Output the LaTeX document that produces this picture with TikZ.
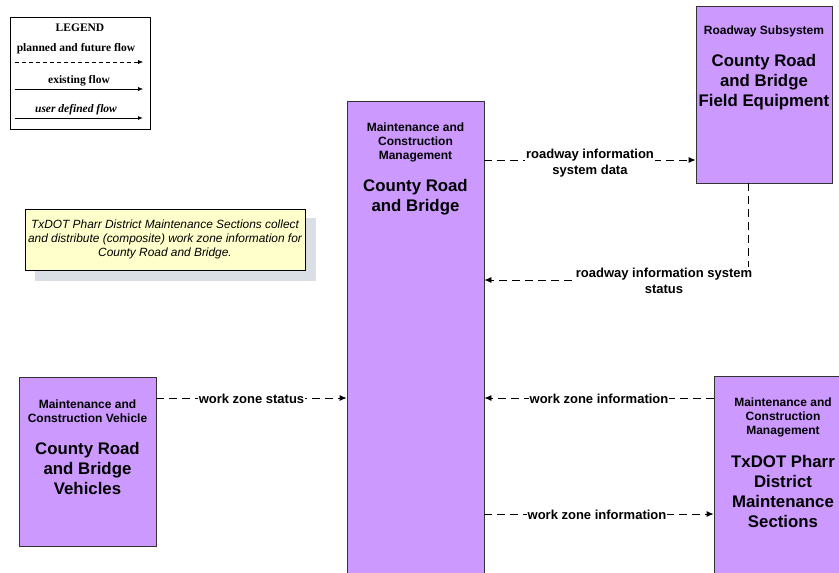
\documentclass[tikz,border=0pt]{standalone}
\usepackage{fontspec}
\setmainfont{Liberation Serif}
\setsansfont{Liberation Sans}
\usetikzlibrary{arrows.meta}
\definecolor{subsys}{HTML}{CC99FF}
\definecolor{notefill}{HTML}{FFFFCC}
\definecolor{noteshadow}{HTML}{D9DFE4}

\begin{document}
\begin{tikzpicture}[x=1pt,y=-1pt,
  sub/.style={draw=black!80,fill=subsys,line width=0.8pt},
  small/.style={font=\sffamily\bfseries\fontsize{12}{13.6}\selectfont,align=center,yshift=-1.5pt},
  big/.style={font=\sffamily\bfseries\fontsize{16.8}{20}\selectfont,align=center,yshift=-1.5pt},
  flow/.style={dash pattern=on 8pt off 5pt,line width=0.8pt,-{Latex[length=7pt,width=6pt]}},
  flbl/.style={font=\sffamily\bfseries\fontsize{13}{16}\selectfont,align=center,fill=white,inner sep=1pt},
  lg/.style={font=\rmfamily\bfseries\fontsize{11.5}{12}\selectfont}]
\useasboundingbox (0,0) rectangle (839,573);

% legend
\node[draw,line width=0.8pt,minimum width=140,minimum height=112] (legend) at (80,73) {};
\node[lg] at (80,28) {LEGEND};
\node[lg] at (76,49) {planned and future flow};
\node[lg] at (79,81) {existing flow};
\node[lg,font=\rmfamily\bfseries\itshape\fontsize{11.5}{12}\selectfont] at (76,110) {user defined flow};
\coordinate (pa) at (15,62);  \coordinate (pb) at (143,62);
\coordinate (ea) at (15,89);  \coordinate (eb) at (143,89);
\coordinate (ua) at (15,118); \coordinate (ub) at (143,118);
\draw[dash pattern=on 4pt off 3pt,-{Latex[length=5pt,width=4pt]}] (pa) -- (pb);
\draw[-{Latex[length=5pt,width=4pt]}] (ea) -- (eb);
\draw[line width=1pt,-{Latex[length=5pt,width=4pt]}] (ua) -- (ub);

% note
\fill[noteshadow] (35,218) rectangle (316,281);
\node[draw,fill=notefill,minimum width=280,minimum height=61,
  font=\sffamily\itshape\fontsize{11.9}{14}\selectfont,align=center] (note) at (165,239.5)
  {TxDOT Pharr District Maintenance Sections collect\\
   and distribute (composite) work zone information for\\
   County Road and Bridge.};

% subsystems
\node[sub,minimum width=137,minimum height=479] (crb) at (415.5,340.5) {};
\node[small] at (415.5,141) {Maintenance and\\Construction\\Management};
\node[big] at (415.5,196) {County Road\\and Bridge};

\node[sub,minimum width=136,minimum height=177] (fe) at (764,94.5) {};
\node[small] at (764,30) {Roadway Subsystem};
\node[big] at (764,81) {County Road\\and Bridge\\Field Equipment};

\node[sub,minimum width=137,minimum height=169] (veh) at (87.5,461.5) {};
\node[small] at (87.5,410) {Maintenance and\\Construction Vehicle};
\node[big] at (87.5,467) {County Road\\and Bridge\\Vehicles};

\node[sub,minimum width=140,minimum height=204] (txd) at (784,478) {};
\node[small] at (783,416) {Maintenance and\\Construction\\Management};
\node[big] at (783,490) {TxDOT Pharr\\District\\Maintenance\\Sections};

% flows
\draw[flow] (crb.east |- 0,160) -- (fe.west |- 0,160)
  node[flbl,midway,yshift=-3] {roadway information\\system data};
\draw[flow] ([xshift=-16]fe.south) |- (crb.east |- 0,280);
\node[flbl] (rsts) at (664,280.5) {roadway information system\\status};
\draw[flow] (veh.east |- 0,398) -- (crb.west |- 0,398)
  node[flbl,midway,yshift=-0.5] {work zone status};
\draw[flow] (txd.west |- 0,398) -- (crb.east |- 0,398)
  node[flbl,midway,yshift=-0.5] {work zone information};
\draw[flow] (crb.east |- 0,514) -- (txd.west |- 0,514)
  node[flbl,midway,xshift=-2,yshift=-0.5] {work zone information};
\end{tikzpicture}
\end{document}
